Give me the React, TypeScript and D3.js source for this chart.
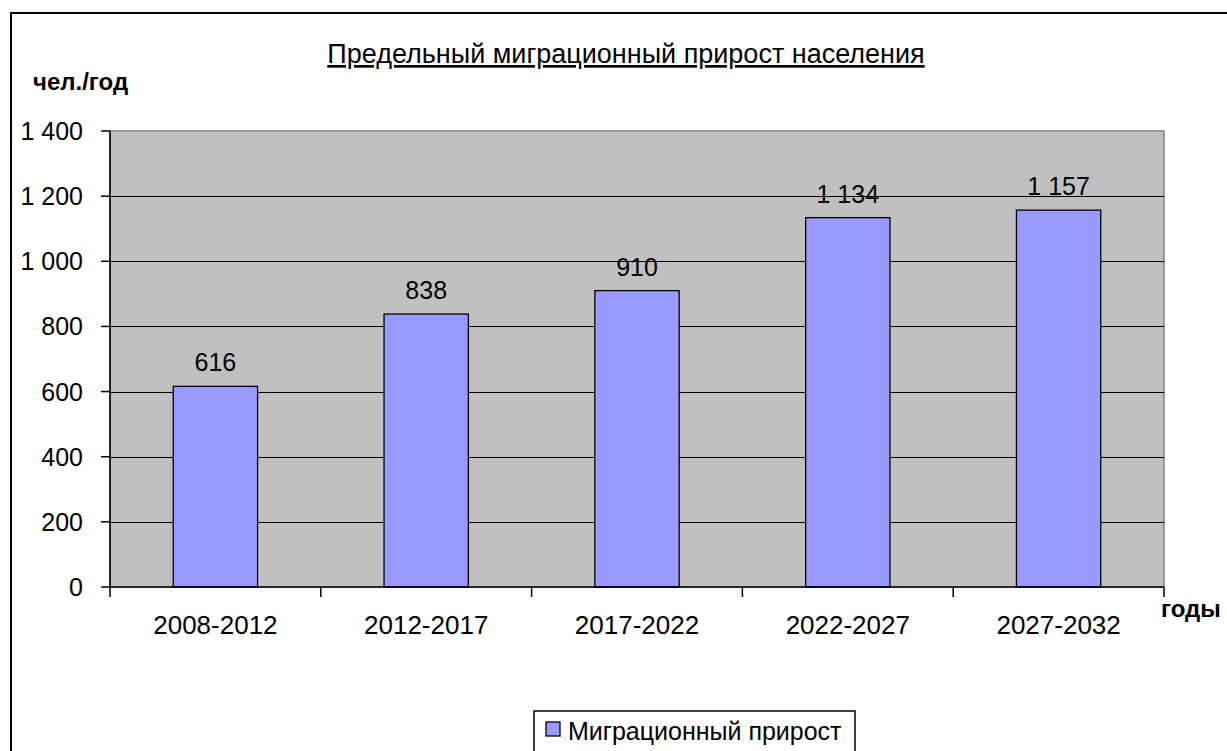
import React from "react";
import * as d3 from "d3";

const categories = ["2008-2012", "2012-2017", "2017-2022", "2022-2027", "2027-2032"];
const values = [616, 838, 910, 1134, 1157];
const yTicks = [0, 200, 400, 600, 800, 1000, 1200, 1400];
const title = "Предельный миграционный прирост населения";
const yTitle = "чел./год";
const xTitle = "годы";
const seriesName = "Миграционный прирост";

const W = 1227;
const H = 751;
const FONT = "Arial, 'Liberation Sans', sans-serif";

const fmt = (v: number) => {
  const s = String(v);
  return s.replace(/\B(?=(\d{3})+(?!\d))/g, " ");
};

export default function App() {
  const left = 110, right = 1164, top = 131, bottom = 587;
  const x = d3.scaleBand<string>().domain(categories).range([left, right]).paddingInner(0.6).paddingOuter(0.3);
  const xb = d3.scaleBand<string>().domain(categories).range([left, right]);
  const y = d3.scaleLinear().domain([0, 1400]).range([bottom, top]);
  const bounds = d3.range(categories.length + 1).map((i) => left + i * xb.step());

  return (
    <svg width={W} height={H} style={{ position: "absolute", left: 0, top: 0, background: "#fff" }} fontFamily={FONT}>
      <rect x={0} y={0} width={W} height={H} fill="#fff" />
      {/* chart frame */}
      <rect x={11} y={13} width={1400} height={900} fill="none" stroke="#000" strokeWidth={2} />
      {/* plot area */}
      <rect x={left} y={top} width={right - left} height={bottom - top} fill="#C0C0C0" stroke="#808080" strokeWidth={1.5} />
      {yTicks.filter((t) => t > 0 && t < 1400).map((t) => (
        <line key={"g" + t} x1={left} x2={right} y1={Math.round(y(t)) + 0.5} y2={Math.round(y(t)) + 0.5} stroke="#000" strokeWidth={1} />
      ))}
      {/* bars */}
      {categories.map((c, i) => (
        <rect key={c} x={x(c)!} y={y(values[i])} width={x.bandwidth()} height={bottom - y(values[i])} fill="#9999FF" stroke="#000" strokeWidth={1.3} />
      ))}
      {/* y axis */}
      <line x1={left} x2={left} y1={top} y2={bottom} stroke="#000" strokeWidth={1.5} />
      {yTicks.map((t) => (
        <g key={"y" + t}>
          <line x1={101} x2={left} y1={y(t)} y2={y(t)} stroke="#000" strokeWidth={1.5} />
          <text x={83} y={y(t) + 9} textAnchor="end" fontSize={25} fill="#000">{fmt(t)}</text>
        </g>
      ))}
      {/* x axis */}
      <line x1={left} x2={right} y1={bottom} y2={bottom} stroke="#000" strokeWidth={1.5} />
      {bounds.map((b, i) => (
        <line key={"xt" + i} x1={b} x2={b} y1={bottom} y2={bottom + 10} stroke="#000" strokeWidth={1.5} />
      ))}
      {categories.map((c) => (
        <text key={"xl" + c} x={xb(c)! + xb.bandwidth() / 2} y={634} textAnchor="middle" fontSize={26} fill="#000">{c}</text>
      ))}
      {/* data labels */}
      {categories.map((c, i) => (
        <text key={"dl" + c} x={x(c)! + x.bandwidth() / 2} y={y(values[i]) - 15} textAnchor="middle" fontSize={25} fill="#000">{fmt(values[i])}</text>
      ))}
      {/* titles */}
      <text x={626} y={63} textAnchor="middle" fontSize={27} fill="#000" textDecoration="underline">{title}</text>
      <text x={33} y={90} fontSize={24} fontWeight="bold" fill="#000">{yTitle}</text>
      <text x={1161} y={617} fontSize={24} fontWeight="bold" fill="#000">{xTitle}</text>
      {/* legend */}
      <rect x={534} y={711} width={321} height={80} fill="#fff" stroke="#000" strokeWidth={1.5} />
      <rect x={546} y={722} width={14} height={14} fill="#9999FF" stroke="#000" strokeWidth={1.3} />
      <text x={568} y={740} fontSize={25} fill="#000">{seriesName}</text>
    </svg>
  );
}
